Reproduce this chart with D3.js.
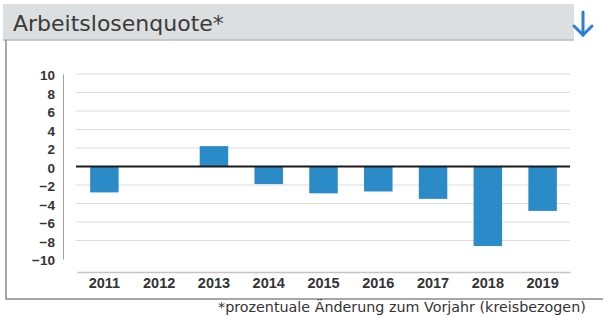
<!DOCTYPE html>
<html>
<head>
<meta charset="utf-8">
<script src="https://cdn.jsdelivr.net/npm/d3@7"></script>
<style>
  body { margin: 0; background: #fff; }
  svg { display: block; }
</style>
</head>
<body>
<div id="chart"></div>
<script>
var width  = 603;
var height = 316;

// data
var years  = ["2011", "2012", "2013", "2014", "2015", "2016", "2017", "2018", "2019"];
var values = [-2.8, 0, 2.2, -1.9, -2.9, -2.7, -3.5, -8.6, -4.8];
var yTicks = [10, 8, 6, 4, 2, 0, -2, -4, -6, -8, -10];
var gridTicks = [10, 8, 6, 4, 2, -2, -4, -6, -8];

var title    = "Arbeitslosenquote*";
var footnote = "*prozentuale Änderung zum Vorjahr (kreisbezogen)";

var barColor = "#2a8bc8";
var numFont  = "'Liberation Sans', Arial, sans-serif";

var svg = d3.select("#chart").append("svg")
    .attr("width", width)
    .attr("height", height);

// header band
svg.append("rect")
   .attr("x", 3).attr("y", 4)
   .attr("width", 571).attr("height", 36)
   .attr("fill", "#dcdfdf");
svg.append("line")
   .attr("x1", 3).attr("x2", 574)
   .attr("y1", 40).attr("y2", 40)
   .attr("stroke", "#b9bcbc").attr("stroke-width", 1.5);

svg.append("text")
   .attr("x", 13).attr("y", 31)
   .attr("font-family", "'DejaVu Sans', Verdana, sans-serif")
   .attr("font-size", 22)
   .attr("fill", "#3a3a3a")
   .text(title);

// download arrow
var arrow = svg.append("g")
   .attr("stroke", "#2a7fd6").attr("stroke-width", 3)
   .attr("fill", "none").attr("stroke-linecap", "round");
arrow.append("line").attr("x1", 583).attr("x2", 583).attr("y1", 12).attr("y2", 35);
arrow.append("polyline").attr("points", "574,26 583,35 592,26");

// panel frame
svg.append("path")
   .attr("d", "M6,40 V299 H603")
   .attr("fill", "none")
   .attr("stroke", "#8a8a8a").attr("stroke-width", 1.5);

// scales
var x = d3.scaleBand()
    .domain(years)
    .range([77, 570])
    .paddingInner(0.48)
    .paddingOuter(0.24);

var y = d3.scaleLinear()
    .domain([-10, 10])
    .range([259, 74]);

// grid
svg.append("g")
   .selectAll("line")
   .data(gridTicks)
   .enter()
   .append("line")
   .attr("x1", 76).attr("x2", 570)
   .attr("y1", function(d) { return y(d); })
   .attr("y2", function(d) { return y(d); })
   .attr("stroke", "#dcdcdc").attr("stroke-width", 1);

// y axis
var yAxis = svg.append("g")
   .attr("transform", "translate(63,0)")
   .call(d3.axisLeft(y).tickValues(yTicks).tickSize(0).tickSizeOuter(0).tickPadding(8));
yAxis.select(".domain").attr("stroke", "#a0a0a0");
yAxis.selectAll("text")
   .attr("font-family", numFont)
   .attr("font-weight", "bold")
   .attr("font-size", 13.5)
   .attr("fill", "#333")
   .attr("dy", "0.42em");

// x axis
var xAxis = svg.append("g")
   .attr("transform", "translate(0,272)")
   .call(d3.axisBottom(x).tickSize(0).tickSizeOuter(0).tickPadding(6));
xAxis.select(".domain").attr("stroke", "#c4c4c4").attr("stroke-width", 1.5);
xAxis.selectAll("text")
   .attr("font-family", numFont)
   .attr("font-weight", "bold")
   .attr("font-size", 14.5)
   .attr("fill", "#333");

// bars
svg.append("g")
   .selectAll("rect")
   .data(values)
   .enter()
   .append("rect")
   .attr("x", function(d, i) { return x(years[i]); })
   .attr("y", function(d) { return y(Math.max(0, d)); })
   .attr("width", x.bandwidth())
   .attr("height", function(d) { return Math.abs(y(d) - y(0)); })
   .attr("fill", barColor);

// zero line
svg.append("line")
   .attr("x1", 76).attr("x2", 570)
   .attr("y1", y(0)).attr("y2", y(0))
   .attr("stroke", "#1a1a1a").attr("stroke-width", 2);

// footnote
svg.append("text")
   .attr("x", 218).attr("y", 312)
   .attr("font-family", "'DejaVu Sans', Verdana, sans-serif")
   .attr("font-size", 14.3)
   .attr("fill", "#333")
   .text(footnote);
</script>
</body>
</html>
